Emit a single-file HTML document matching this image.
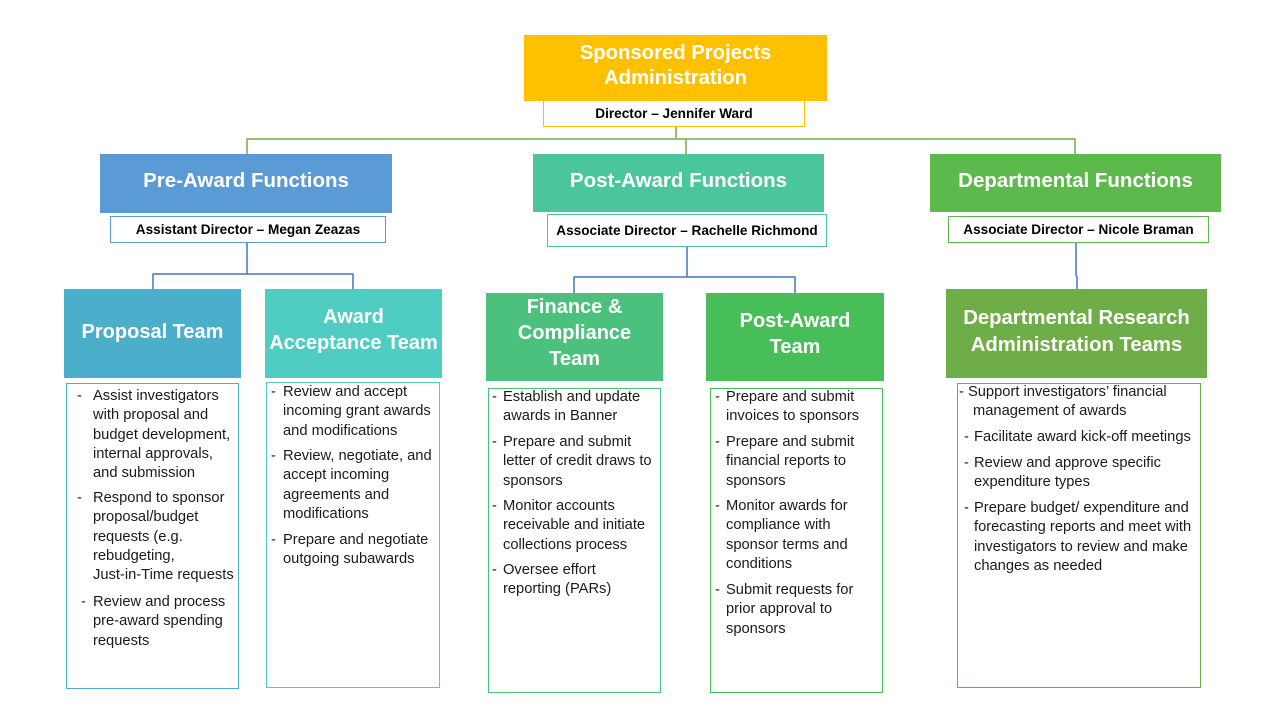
<!DOCTYPE html>
<html>
<head>
<meta charset="utf-8">
<style>
  html,body{margin:0;padding:0;background:#fff;}
  #c{position:relative;width:1280px;height:720px;overflow:hidden;background:#fff;font-family:"Liberation Sans",Arial,sans-serif;}
  .box{position:absolute;box-sizing:border-box;}
  .h{position:absolute;left:0;right:0;text-align:center;color:#fff;font-weight:bold;white-space:nowrap;}
  .sub{position:absolute;box-sizing:border-box;background:#fff;border:1.5px solid #000;}
  .subt{position:absolute;left:0;right:0;text-align:center;color:#000;font-weight:bold;font-size:13.6px;line-height:18px;white-space:nowrap;}
  .list{position:absolute;box-sizing:border-box;background:#fff;border:1.5px solid #000;}
  .p{position:absolute;font-size:14.7px;line-height:19.3px;color:#1a1a1a;white-space:nowrap;}
  .d{position:absolute;font-size:14.7px;line-height:19.3px;color:#1a1a1a;}
  svg{position:absolute;left:0;top:0;}
</style>
</head>
<body>
<div id="c">
  <svg width="1280" height="720">
    <g stroke="#70AD47" stroke-width="1.5" fill="none">
      <line x1="676" y1="127" x2="676" y2="139"/>
      <line x1="246.5" y1="139" x2="1075.5" y2="139"/>
      <line x1="247" y1="139" x2="247" y2="154"/>
      <line x1="686" y1="139" x2="686" y2="154"/>
      <line x1="1075" y1="139" x2="1075" y2="154"/>
    </g>
    <g stroke="#4472C4" stroke-width="1.5" fill="none">
      <line x1="247" y1="243" x2="247" y2="274"/>
      <line x1="152.5" y1="274" x2="353.5" y2="274"/>
      <line x1="153" y1="274" x2="153" y2="289"/>
      <line x1="353" y1="274" x2="353" y2="289"/>
      <line x1="687" y1="247" x2="687" y2="277"/>
      <line x1="573.5" y1="277" x2="795.5" y2="277"/>
      <line x1="574" y1="277" x2="574" y2="293"/>
      <line x1="795" y1="277" x2="795" y2="293"/>
      <polyline points="1076,243 1076,275 1077,277 1077,289"/>
    </g>
  </svg>

  <!-- Top -->
  <div class="box" style="left:524px;top:35px;width:303px;height:66px;background:#FFC000;">
    <div class="h" style="top:5.5px;font-size:20.3px;line-height:25px;">Sponsored Projects<br>Administration</div>
  </div>
  <div class="sub" style="left:543px;top:100px;width:262px;height:27px;border-color:#FFC000;">
    <div class="subt" style="top:3.5px;">Director – Jennifer Ward</div>
  </div>

  <!-- Function headers -->
  <div class="box" style="left:100px;top:154px;width:292px;height:59px;background:#5B9BD5;">
    <div class="h" style="top:14px;font-size:20.5px;line-height:26px;">Pre-Award Functions</div>
  </div>
  <div class="sub" style="left:110px;top:216px;width:276px;height:27px;border-color:#5B9BD5;">
    <div class="subt" style="top:4px;">Assistant Director – Megan Zeazas</div>
  </div>

  <div class="box" style="left:533px;top:154px;width:291px;height:58px;background:#4BC59B;">
    <div class="h" style="top:14px;font-size:20.5px;line-height:26px;">Post-Award Functions</div>
  </div>
  <div class="sub" style="left:547px;top:214px;width:280px;height:33px;border-color:#4BC59B;">
    <div class="subt" style="top:6.5px;">Associate Director – Rachelle Richmond</div>
  </div>

  <div class="box" style="left:930px;top:154px;width:291px;height:58px;background:#5CB94C;">
    <div class="h" style="top:14px;font-size:20.5px;line-height:26px;">Departmental Functions</div>
  </div>
  <div class="sub" style="left:948px;top:216px;width:261px;height:27px;border-color:#5CB94C;">
    <div class="subt" style="top:4px;">Associate Director – Nicole Braman</div>
  </div>

  <!-- Team boxes -->
  <div class="box" style="left:64px;top:289px;width:177px;height:89px;background:#4BAECB;">
    <div class="h" style="top:30px;font-size:20px;line-height:26px;">Proposal Team</div>
  </div>
  <div class="box" style="left:265px;top:289px;width:177px;height:89px;background:#4FCDC3;">
    <div class="h" style="top:15px;font-size:20px;line-height:26px;">Award<br>Acceptance Team</div>
  </div>
  <div class="box" style="left:486px;top:293px;width:177px;height:88px;background:#4CC17D;">
    <div class="h" style="top:1px;font-size:20px;line-height:26px;">Finance &amp;<br>Compliance<br>Team</div>
  </div>
  <div class="box" style="left:706px;top:293px;width:178px;height:88px;background:#48BE58;">
    <div class="h" style="top:15px;font-size:20px;line-height:26px;">Post-Award<br>Team</div>
  </div>
  <div class="box" style="left:946px;top:289px;width:261px;height:89px;background:#6FAD48;">
    <div class="h" style="top:16px;font-size:20.3px;line-height:26.5px;">Departmental Research<br>Administration Teams</div>
  </div>

  <!-- Lists -->
  <div class="list" style="left:66px;top:383px;width:173px;height:306px;border-color:#4BAECB;"></div>
  <div class="d" style="left:77px;top:387px;">-</div>
  <div class="p" style="left:93px;top:387px;">Assist investigators<br>with proposal and<br>budget development,<br>internal approvals,<br>and submission</div>
  <div class="d" style="left:77px;top:489px;">-</div>
  <div class="p" style="left:93px;top:489px;">Respond to sponsor<br>proposal/budget<br>requests (e.g.<br>rebudgeting,<br>Just-in-Time requests</div>
  <div class="d" style="left:81px;top:593px;">-</div>
  <div class="p" style="left:93px;top:593px;">Review and process<br>pre-award spending<br>requests</div>

  <div class="list" style="left:266px;top:382px;width:174px;height:306px;border-color:#4FCDC3;"></div>
  <div class="d" style="left:271px;top:383px;">-</div>
  <div class="p" style="left:283px;top:383px;">Review and accept<br>incoming grant awards<br>and modifications</div>
  <div class="d" style="left:271px;top:447px;">-</div>
  <div class="p" style="left:283px;top:447px;">Review, negotiate, and<br>accept incoming<br>agreements and<br>modifications</div>
  <div class="d" style="left:271px;top:531px;">-</div>
  <div class="p" style="left:283px;top:531px;">Prepare and negotiate<br>outgoing subawards</div>

  <div class="list" style="left:488px;top:388px;width:173px;height:305px;border-color:#4CC17D;"></div>
  <div class="d" style="left:492px;top:388px;">-</div>
  <div class="p" style="left:503px;top:388px;">Establish and update<br>awards in Banner</div>
  <div class="d" style="left:492px;top:433px;">-</div>
  <div class="p" style="left:503px;top:433px;">Prepare and submit<br>letter of credit draws to<br>sponsors</div>
  <div class="d" style="left:492px;top:497px;">-</div>
  <div class="p" style="left:503px;top:497px;">Monitor accounts<br>receivable and initiate<br>collections process</div>
  <div class="d" style="left:492px;top:561px;">-</div>
  <div class="p" style="left:503px;top:561px;">Oversee effort<br>reporting (PARs)</div>

  <div class="list" style="left:710px;top:388px;width:173px;height:305px;border-color:#48BE58;"></div>
  <div class="d" style="left:715px;top:388px;">-</div>
  <div class="p" style="left:726px;top:388px;">Prepare and submit<br>invoices to sponsors</div>
  <div class="d" style="left:715px;top:433px;">-</div>
  <div class="p" style="left:726px;top:433px;">Prepare and submit<br>financial reports to<br>sponsors</div>
  <div class="d" style="left:715px;top:497px;">-</div>
  <div class="p" style="left:726px;top:497px;">Monitor awards for<br>compliance with<br>sponsor terms and<br>conditions</div>
  <div class="d" style="left:715px;top:581px;">-</div>
  <div class="p" style="left:726px;top:581px;">Submit requests for<br>prior approval to<br>sponsors</div>

  <div class="list" style="left:957px;top:383px;width:244px;height:305px;border-color:#6FAD48;"></div>
  <div class="p" style="left:959px;top:383px;">- Support investigators’ financial</div>
  <div class="p" style="left:973px;top:402.3px;">management of awards</div>
  <div class="d" style="left:964px;top:428px;">-</div>
  <div class="p" style="left:974px;top:428px;">Facilitate award kick-off meetings</div>
  <div class="d" style="left:964px;top:454px;">-</div>
  <div class="p" style="left:974px;top:454px;">Review and approve specific<br>expenditure types</div>
  <div class="d" style="left:964px;top:499px;">-</div>
  <div class="p" style="left:974px;top:499px;">Prepare budget/ expenditure and<br>forecasting reports and meet with<br>investigators to review and make<br>changes as needed</div>
</div>
</body>
</html>
